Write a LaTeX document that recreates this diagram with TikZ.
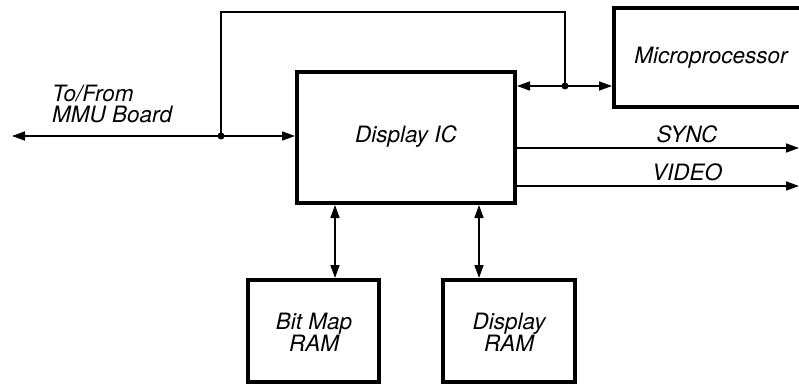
\documentclass[tikz,border=0pt]{standalone}
\usepackage{fontspec}
\setmainfont{TeX Gyre Heros}
\usetikzlibrary{arrows.meta}
\begin{document}
\begin{tikzpicture}[x=1pt,y=-1pt,
  blk/.style={draw,line width=4pt,inner sep=0pt},
  lbl/.style={font=\fontsize{22.5}{20}\selectfont\itshape,align=center,inner sep=0pt},
  wire/.style={line width=1.6pt},
  tip/.style={-{Triangle[length=13pt,width=9pt]}},
  tips/.style={{Triangle[length=13pt,width=9pt]}-{Triangle[length=13pt,width=9pt]}},
  dot/.style={circle,fill,inner sep=0pt,minimum size=7pt}]
\useasboundingbox (0,0) rectangle (799,385);
\clip (0,0) rectangle (799,385);
% boxes
\draw[blk] (297,72) rectangle (515,203);
\node[lbl] (dic) at (406,137) {Display IC};
\draw[blk] (614,8) rectangle (815,107);
\node[lbl] (mp) at (711,58) {Microprocessor};
\draw[blk] (248,280) rectangle (379,382);
\node[lbl] (bm) at (314,332) {Bit Map\\RAM};
\draw[blk] (443,280) rectangle (575,382);
\node[lbl] (dr) at (509,332) {Display\\RAM};
% coordinates
\coordinate (L) at (12,136);
\coordinate (DICL) at (295,136);
\coordinate (J1) at (221,136);
\coordinate (J2) at (565,86);
\coordinate (DICR) at (517,86);
\coordinate (MPL) at (612,86);
\node[dot] (j1) at (J1) {};
\node[dot] (j2) at (J2) {};
% left bus
\draw[wire,tips] (L) -- (DICL);
\draw[wire] (j1.center) -- (221,12) -- (565,12) -- (j2.center);
\draw[wire,tips] (DICR) -- (MPL);
\node[lbl,anchor=west,align=left,font=\fontsize{22.5}{21}\selectfont\itshape] (mmu) at (52,104) {To/From\\MMU Board};
% sync/video
\coordinate (S1) at (517,148);
\coordinate (S2) at (799,148);
\coordinate (V1) at (517,186);
\coordinate (V2) at (799,186);
\draw[wire,tip] (S1) -- (S2);
\draw[wire,tip] (V1) -- (V2);
\node[lbl] (sync) at (687,134) {SYNC};
\node[lbl] (video) at (687,172) {VIDEO};
% RAM links
\draw[wire,tips] (335,205) -- (335,278);
\draw[wire,tips] (479,205) -- (479,278);
\end{tikzpicture}
\end{document}
